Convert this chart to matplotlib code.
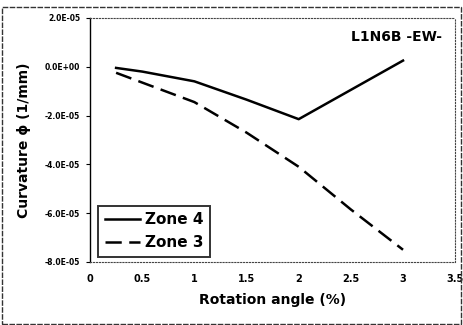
import matplotlib
matplotlib.use("Agg")
import matplotlib.pyplot as plt
from matplotlib.ticker import FuncFormatter, MultipleLocator
from matplotlib.patches import Rectangle

x_zone4 = [0.25, 0.5, 1.0, 1.5, 2.0, 3.0]
y_zone4 = [-0.05e-5, -0.2e-5, -0.6e-5, -1.35e-5, -2.15e-5, 0.25e-5]
x_zone3 = [0.25, 0.5, 1.0, 1.5, 2.0, 2.5, 3.0]
y_zone3 = [-0.25e-5, -0.65e-5, -1.45e-5, -2.7e-5, -4.1e-5, -5.85e-5, -7.5e-5]

title_text = "L1N6B -EW-"
x_label = "Rotation angle (%)"
y_label = "Curvature \u03d5 (1/mm)"

fig = plt.figure(figsize=(4.64, 3.25), dpi=100)
ax = fig.add_axes([0.194, 0.194, 0.787, 0.751])

ax.plot(x_zone4, y_zone4, color="black", lw=1.8, label="Zone 4")
ax.plot(x_zone3, y_zone3, color="black", lw=1.8, ls=(0, (6.5, 3)), label="Zone 3")

ax.set_xlim(0, 3.5)
ax.set_ylim(-8e-5, 2e-5)
ax.xaxis.set_major_locator(MultipleLocator(0.5))
ax.yaxis.set_major_locator(MultipleLocator(2e-5))

def yfmt(v, pos):
    if abs(v) < 1e-12:
        return "0.0E+00"
    return "%.1E" % v

def xfmt(v, pos):
    return "%g" % v

ax.yaxis.set_major_formatter(FuncFormatter(yfmt))
ax.xaxis.set_major_formatter(FuncFormatter(xfmt))

for lab in ax.get_yticklabels():
    lab.set_fontsize(5.5)
    lab.set_fontweight("bold")
for lab in ax.get_xticklabels():
    lab.set_fontsize(7)
    lab.set_fontweight("bold")

ax.tick_params(axis="y", direction="out", length=3, width=0.8, pad=4)
ax.tick_params(axis="x", length=0, pad=9)

ax.spines["left"].set_linewidth(1.0)
for s in ["top", "right", "bottom"]:
    ax.spines[s].set_linestyle(":")
    ax.spines[s].set_linewidth(0.8)
    ax.spines[s].set_color("#444444")

ax.set_xlabel(x_label, fontsize=10, fontweight="bold", labelpad=6)
ax.set_ylabel(y_label, fontsize=10, fontweight="bold", labelpad=10)

ax.text(0.965, 0.92, title_text, transform=ax.transAxes, ha="right", va="center",
        fontsize=10, fontweight="bold")

leg = ax.legend(loc="lower left", bbox_to_anchor=(0.014, 0.008),
                prop={"weight": "bold", "size": 11}, frameon=True, fancybox=False,
                edgecolor="black", handlelength=2.3, handletextpad=0.3,
                borderpad=0.45, labelspacing=0.5, borderaxespad=0.2)
leg.get_frame().set_linewidth(1.4)

fig.patches.append(Rectangle((0.004, 0.004), 0.99, 0.975, transform=fig.transFigure,
                             fill=False, edgecolor="#333333", lw=1.0, ls=(0, (4, 1))))

fig.savefig("out.png", dpi=100)
